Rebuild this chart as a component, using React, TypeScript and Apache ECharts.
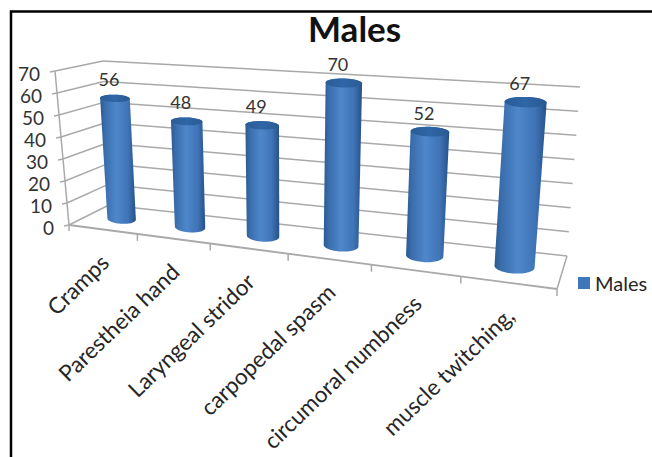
import React, { useEffect, useRef } from "react";
import * as echarts from "echarts";

const categories = [
  "Cramps",
  "Parestheia hand",
  "Laryngeal stridor",
  "carpopedal spasm",
  "circumoral numbness",
  "muscle twitching,",
];
const maleValues = [56, 48, 49, 70, 52, 67];
const valueTicks = [0, 10, 20, 30, 40, 50, 60, 70];

const FONT = "Lato, 'Noto Sans', sans-serif";
const GRID_LINE = "#a9a9a9";
const LEGEND_BLUE = "#4077ba";

type Pt = [number, number];

// Corners of the 3D plot box as seen on the page.
const FRONT_FLOOR_L: Pt = [69, 225];
const FRONT_FLOOR_R: Pt = [557, 289];
const BACK_FLOOR_L: Pt = [109, 205];
const BACK_FLOOR_R: Pt = [567, 256];
const FRONT_TOP_L: Pt = [55, 71];
const FRONT_TOP_R: Pt = [572, 109];
const BACK_TOP_L: Pt = [103, 61];
const BACK_TOP_R: Pt = [580, 87];
const FORESHORTEN = 1.227;
const BAR_DEPTH = 0.5;
const BAR_HALF_SPAN = 0.215;
const RIM_TILT = 0.4;

const mix = (a: Pt, b: Pt, t: number): Pt => [
  a[0] + (b[0] - a[0]) * t,
  a[1] + (b[1] - a[1]) * t,
];

// Maps box coordinates (u along categories, v up the value axis, w into the page)
// to page pixels; u is foreshortened because the right side is nearer to the viewer.
function project(u: number, v: number, w: number): Pt {
  const s = u / (u + FORESHORTEN * (1 - u));
  const floor = mix(mix(FRONT_FLOOR_L, FRONT_FLOOR_R, s), mix(BACK_FLOOR_L, BACK_FLOOR_R, s), w);
  const top = mix(mix(FRONT_TOP_L, FRONT_TOP_R, s), mix(BACK_TOP_L, BACK_TOP_R, s), w);
  return mix(floor, top, v);
}

function toBox(api: any, params: any, category: number, value: number) {
  const cs = params.coordSys;
  const p = api.coord([category, value]);
  return { u: (p[0] - cs.x) / cs.width, v: (cs.y + cs.height - p[1]) / cs.height };
}

const line = (a: Pt, b: Pt, width = 1.5) => ({
  type: "line",
  shape: { x1: a[0], y1: a[1], x2: b[0], y2: b[1] },
  style: { stroke: GRID_LINE, lineWidth: width },
  silent: true,
});

// Walls: one gridline per value tick plus its label beside the slanted axis.
function renderValueTick(params: any, api: any) {
  const { v } = toBox(api, params, 0, api.value(1));
  const front = project(0, v, 0);
  const children: any[] = [
    line(project(1, v, 1), project(0, v, 1)),
    line(project(0, v, 1), front),
    line(front, [front[0] - 5, front[1] + 1]),
    {
      type: "text",
      x: front[0] - 15,
      y: front[1] + 2,
      style: {
        text: String(api.value(1)),
        fill: "#333333",
        fontSize: 19,
        fontFamily: FONT,
        align: "right",
        verticalAlign: "middle",
      },
    },
  ];
  return { type: "group", children };
}

// Floor edges, the ticks between categories, and the slanted category names.
function renderCategoryTick(params: any, api: any) {
  const index = api.value(0);
  const cs = params.coordSys;
  const band = api.size([1, 0])[0];
  const centre = (api.coord([index, 0])[0] - cs.x) / cs.width;
  const edge = centre + band / 2 / cs.width;
  const children: any[] = [];
  if (index === 0) {
    children.push(
      line(project(0, 0, 0), project(1, 0, 0), 1.8),
      line(project(1, 0, 0), project(1, 0, 1)),
      line(project(0, 1, 0), project(0, 0, 0)),
      line(project(0, 0, 0), [project(0, 0, 0)[0], project(0, 0, 0)[1] + 6]),
    );
  }
  const tickAt = project(edge, 0, 0);
  children.push(line(tickAt, [tickAt[0], tickAt[1] + 7]));
  const anchor = project(centre, 0, 0);
  children.push({
    type: "text",
    x: anchor[0] + 2,
    y: anchor[1] + 29,
    rotation: (44 * Math.PI) / 180,
    style: {
      text: categories[index],
      fill: "#262626",
      fontSize: 22.5,
      fontFamily: FONT,
      align: "right",
      verticalAlign: "middle",
    },
  });
  return { type: "group", children };
}

function ellipsePoints(centre: Pt, axis: Pt, ry: number, from: number, to: number): Pt[] {
  const pts: Pt[] = [];
  const steps = 32;
  for (let k = 0; k <= steps; k++) {
    const t = from + ((to - from) * k) / steps;
    pts.push([
      centre[0] + axis[0] * Math.cos(t),
      centre[1] + axis[1] * RIM_TILT * Math.cos(t) + ry * Math.sin(t),
    ]);
  }
  return pts;
}

// One shaded cylinder standing on the floor, with its value printed above it.
function renderCylinder(params: any, api: any) {
  const index = api.value(0);
  const value = api.value(1);
  const cs = params.coordSys;
  const band = api.size([1, 0])[0] / cs.width;
  const { u, v } = toBox(api, params, index, value);
  const du = band * BAR_HALF_SPAN;

  const topC = project(u, v, BAR_DEPTH);
  const botC = project(u, 0, BAR_DEPTH);
  const half = (vv: number): Pt => {
    const a = project(u - du, vv, BAR_DEPTH);
    const b = project(u + du, vv, BAR_DEPTH);
    return [(b[0] - a[0]) / 2, (b[1] - a[1]) / 2];
  };
  const topAxis = half(v);
  const botAxis = half(0);
  const topRy = topAxis[0] * 0.25;
  const botRy = botAxis[0] * 0.34;

  const body = [
    ...ellipsePoints(topC, topAxis, topRy, Math.PI, 2 * Math.PI),
    ...ellipsePoints(botC, botAxis, botRy, 0, Math.PI),
  ];
  const bodyFill = new echarts.graphic.LinearGradient(0, 0, 1, 0, [
    { offset: 0, color: "#2b5a92" },
    { offset: 0.14, color: "#3a6ead" },
    { offset: 0.45, color: "#4e87cb" },
    { offset: 0.78, color: "#3f74b6" },
    { offset: 1, color: "#26508a" },
  ]);
  const lidFill = new echarts.graphic.LinearGradient(0, 0, 1, 0, [
    { offset: 0, color: "#2a5c96" },
    { offset: 0.5, color: "#2f66a6" },
    { offset: 1, color: "#2a5a92" },
  ]);
  return {
    type: "group",
    children: [
      { type: "polygon", shape: { points: body }, style: { fill: bodyFill } },
      {
        type: "polygon",
        shape: { points: ellipsePoints(topC, topAxis, topRy, 0, 2 * Math.PI) },
        style: { fill: lidFill },
      },
      {
        type: "text",
        x: topC[0] - 6,
        y: topC[1] - 19,
        style: {
          text: String(value),
          fill: "#333333",
          fontSize: 18,
          fontFamily: FONT,
          align: "center",
          verticalAlign: "middle",
        },
      },
    ],
  };
}

export default function App() {
  const ref = useRef<HTMLDivElement>(null);

  useEffect(() => {
    const chart = echarts.init(ref.current!, null, { renderer: "svg" });
    chart.setOption({
      animation: false,
      backgroundColor: "#ffffff",
      title: {
        text: "Males",
        left: 308,
        top: 10,
        textStyle: { fontFamily: FONT, fontSize: 35, fontWeight: "bold", color: "#111111" },
        padding: 0,
      },
      legend: {
        data: ["Males"],
        left: 573,
        top: 268,
        itemWidth: 12,
        itemHeight: 12,
        itemGap: 6,
        icon: "rect",
        textStyle: { fontFamily: FONT, fontSize: 20, color: "#262626" },
      },
      grid: { left: 0, right: 0, top: 0, bottom: 0 },
      xAxis: { type: "category", data: categories, show: false },
      yAxis: { type: "value", min: 0, max: 70, interval: 10, show: false },
      series: [
        {
          name: "Value ticks",
          type: "custom",
          z: 1,
          silent: true,
          clip: false,
          data: valueTicks.map((t) => [0, t]),
          renderItem: renderValueTick,
        },
        {
          name: "Category ticks",
          type: "custom",
          z: 1,
          silent: true,
          clip: false,
          data: categories.map((_, i) => [i, 0]),
          renderItem: renderCategoryTick,
        },
        {
          name: "Males",
          type: "custom",
          z: 2,
          silent: true,
          clip: false,
          itemStyle: { color: LEGEND_BLUE },
          data: maleValues.map((v, i) => [i, v]),
          renderItem: renderCylinder,
        },
      ],
      graphic: [
        {
          type: "polyline",
          z: 10,
          silent: true,
          shape: { points: [[11, 457], [11, 11.5], [652, 11.5]] },
          style: { stroke: "#000000", lineWidth: 2.5, fill: "none" },
        },
      ],
    });
    return () => chart.dispose();
  }, []);

  return (
    <div
      ref={ref}
      style={{ position: "fixed", left: 0, top: 0, width: 652, height: 457 }}
    />
  );
}
